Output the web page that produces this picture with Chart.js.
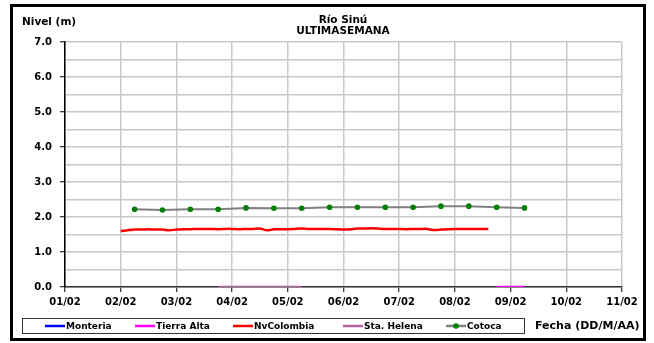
<!DOCTYPE html>
<html>
<head>
<meta charset="utf-8">
<script src="https://cdn.jsdelivr.net/npm/chart.js@4.4.1/dist/chart.umd.min.js"></script>
<style>
  body { margin: 0; background: #fff; }
  canvas { display: block; }
</style>
</head>
<body>
<canvas id="chart" width="654" height="343"></canvas>
<script>
// etiquetas del eje x (dias desde 01/02)
var xTickLabels = ["01/02", "02/02", "03/02", "04/02", "05/02", "06/02", "07/02", "08/02", "09/02", "10/02", "11/02"];

// Cotoca, cada 12 h
var cotocaDays = [1.25, 1.75, 2.25, 2.75, 3.25, 3.75, 4.25, 4.75, 5.25, 5.75, 6.25, 6.75, 7.25, 7.75, 8.25];
var cotocaLevel = [2.22, 2.20, 2.22, 2.22, 2.26, 2.25, 2.25, 2.28, 2.28, 2.28, 2.28, 2.31, 2.31, 2.28, 2.26];

// NvColombia, cada 3 h
var nvColDays = [1.0, 1.125, 1.25, 1.375, 1.5, 1.625, 1.75, 1.875, 2.0, 2.125, 2.25, 2.375, 2.5, 2.625, 2.75, 2.875,
	3.0, 3.125, 3.25, 3.375, 3.5, 3.625, 3.75, 3.875, 4.0, 4.125, 4.25, 4.375, 4.5, 4.625, 4.75, 4.875,
	5.0, 5.125, 5.25, 5.375, 5.5, 5.625, 5.75, 5.875, 6.0, 6.125, 6.25, 6.375, 6.5, 6.625, 6.75, 6.875,
	7.0, 7.125, 7.25, 7.375, 7.5, 7.6];
var nvColLevel = [1.60, 1.62, 1.64, 1.64, 1.65, 1.64, 1.64, 1.62, 1.64, 1.65, 1.65, 1.66, 1.66, 1.66, 1.65, 1.66,
	1.66, 1.65, 1.66, 1.66, 1.67, 1.62, 1.65, 1.65, 1.65, 1.66, 1.67, 1.66, 1.66, 1.66, 1.66, 1.65,
	1.64, 1.65, 1.67, 1.67, 1.68, 1.67, 1.66, 1.66, 1.66, 1.65, 1.66, 1.66, 1.66, 1.63, 1.64, 1.65,
	1.66, 1.66, 1.66, 1.66, 1.66, 1.66];

// Sta. Helena y Tierra Alta (en cero)
var staHelenaDays = [2.75, 3.0, 3.25, 3.5, 3.75, 4.0, 4.25];
var staHelenaLevel = [0, 0, 0, 0, 0, 0, 0];
var tierraAltaDays = [7.75, 8.0, 8.25];
var tierraAltaLevel = [0, 0, 0];

// Monteria sin datos
var monteriaDays = [];
var monteriaLevel = [];

var FONT = "'DejaVu Sans', sans-serif";

function pts(xs, ys) {
	return xs.map(function (x, i) { return { x: x, y: ys[i] }; });
}

// marco, titulos y leyenda
var decor = {
	id: "decor",
	afterDraw: function (chart) {
		var c = chart.ctx;
		c.save();
		c.strokeStyle = "#000";
		c.lineWidth = 3;
		c.strokeRect(11.5, 5.5, 633, 334);

		c.fillStyle = "#000";
		c.font = "bold 10.5px " + FONT;
		c.textAlign = "center";
		c.textBaseline = "middle";
		c.fillText("Río Sinú", 343, 20);
		c.fillText("ULTIMASEMANA", 343, 31);
		c.textAlign = "left";
		c.fillText("Nivel (m)", 22, 22);

		// caja de leyenda
		c.lineWidth = 1;
		c.strokeStyle = "#333";
		c.strokeRect(22.5, 318.5, 502, 15);
		var xs = [45, 135, 233, 343, 446];
		var cy = 326;
		c.font = "bold 9px " + FONT;
		chart.data.datasets.forEach(function (ds, i) {
			c.strokeStyle = ds.borderColor;
			c.lineWidth = 2.5;
			c.beginPath();
			c.moveTo(xs[i], cy);
			c.lineTo(xs[i] + 20, cy);
			c.stroke();
			if (ds.pointRadius > 0) {
				c.fillStyle = ds.pointBackgroundColor;
				c.beginPath();
				c.arc(xs[i] + 10, cy, 2.8, 0, Math.PI * 2);
				c.fill();
			}
			c.fillStyle = "#000";
			c.fillText(ds.label, xs[i] + 21, cy + 0.5);
		});

		c.font = "bold 11px " + FONT;
		c.fillText("Fecha (DD/M/AA)", 535, 326);
		c.restore();
	}
};

var chart = new Chart(document.getElementById("chart"), {
	type: "line",
	data: {
		datasets: [
			{ label: "Monteria", data: pts(monteriaDays, monteriaLevel), borderColor: "#0000ff", borderWidth: 2.5, pointRadius: 0 },
			{ label: "Tierra Alta", data: pts(tierraAltaDays, tierraAltaLevel), borderColor: "#ff00ff", borderWidth: 2.5, pointRadius: 0 },
			{ label: "NvColombia", data: pts(nvColDays, nvColLevel), borderColor: "#ff0000", borderWidth: 2.5, pointRadius: 0, tension: 0.2 },
			{ label: "Sta. Helena", data: pts(staHelenaDays, staHelenaLevel), borderColor: "#b060a0", borderWidth: 2.5, pointRadius: 0 },
			{ label: "Cotoca", data: pts(cotocaDays, cotocaLevel), borderColor: "#808080", borderWidth: 2, pointRadius: 2.8,
				pointBackgroundColor: "#008000", pointBorderColor: "#008000", pointBorderWidth: 0 }
		]
	},
	options: {
		responsive: false,
		animation: false,
		layout: { padding: { left: 0, top: 42, right: 32, bottom: 0 } },
		plugins: { legend: { display: false }, title: { display: false }, tooltip: { enabled: false } },
		scales: {
			x: {
				type: "linear",
				min: 0,
				max: 10,
				afterFit: function (s) { s.height = 56; },
				grid: { color: "#c8c8c8", lineWidth: 1.5, tickLength: 5, tickColor: "#000", tickWidth: 1 },
				border: { color: "#333", width: 1.5 },
				ticks: {
					stepSize: 1,
					autoSkip: false,
					maxRotation: 0,
					padding: 4,
					color: "#000",
					font: { family: FONT, size: 10, weight: "bold" },
					callback: function (v) { return xTickLabels[v]; }
				}
			},
			y: {
				min: 0,
				max: 7,
				afterFit: function (s) { s.width = 65; },
				grid: {
					color: "#c8c8c8", lineWidth: 1.5, tickLength: 5, tickWidth: 1,
					tickColor: function (ctx) { return ctx.tick && ctx.tick.value % 1 === 0 ? "#000" : "rgba(0,0,0,0)"; }
				},
				border: { color: "#000", width: 1.5 },
				ticks: {
					stepSize: 0.5,
					autoSkip: false,
					padding: 8,
					color: "#000",
					font: { family: FONT, size: 10, weight: "bold" },
					callback: function (v) { return v % 1 === 0 ? v.toFixed(1) : ""; }
				}
			}
		}
	},
	plugins: [decor]
});
</script>
</body>
</html>
